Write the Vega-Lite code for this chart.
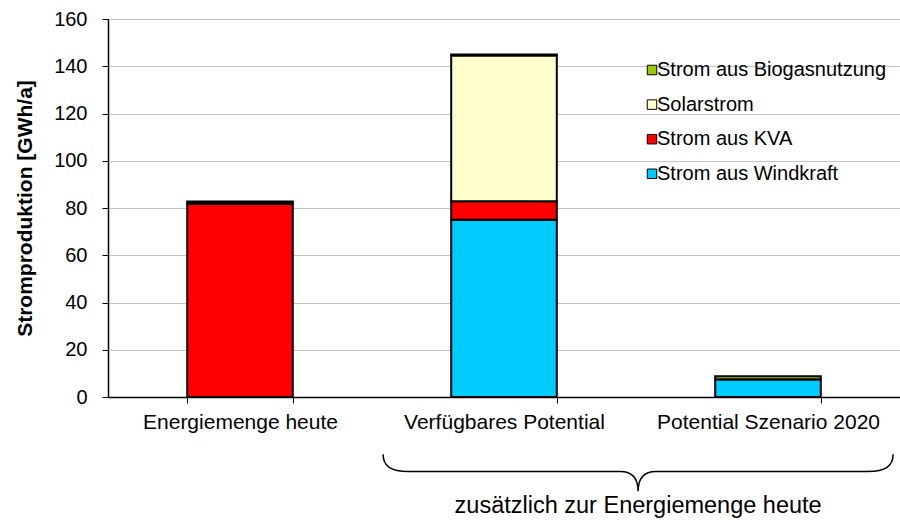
{
  "$schema": "https://vega.github.io/schema/vega-lite/v6.json",
  "width": 792,
  "height": 378,
  "autosize": {"type": "none"},
  "padding": {"left": 108, "top": 19, "right": 0, "bottom": 123},
  "background": "white",
  "config": {
    "font": "Liberation Sans",
    "view": {"stroke": null}
  },
  "datasets": {
    "strom": [
      {"kategorie": "Energiemenge heute", "quelle": "Strom aus Windkraft", "wert": 0},
      {"kategorie": "Energiemenge heute", "quelle": "Strom aus KVA", "wert": 81.9},
      {"kategorie": "Energiemenge heute", "quelle": "Solarstrom", "wert": 0},
      {"kategorie": "Energiemenge heute", "quelle": "Strom aus Biogasnutzung", "wert": 0.9},
      {"kategorie": "Verfügbares Potential", "quelle": "Strom aus Windkraft", "wert": 75},
      {"kategorie": "Verfügbares Potential", "quelle": "Strom aus KVA", "wert": 7.9},
      {"kategorie": "Verfügbares Potential", "quelle": "Solarstrom", "wert": 61.6},
      {"kategorie": "Verfügbares Potential", "quelle": "Strom aus Biogasnutzung", "wert": 0.5},
      {"kategorie": "Potential Szenario 2020", "quelle": "Strom aus Windkraft", "wert": 7.5},
      {"kategorie": "Potential Szenario 2020", "quelle": "Strom aus KVA", "wert": 0},
      {"kategorie": "Potential Szenario 2020", "quelle": "Solarstrom", "wert": 0},
      {"kategorie": "Potential Szenario 2020", "quelle": "Strom aus Biogasnutzung", "wert": 1.3}
    ],
    "klammer": [
      {"kategorie": "Potential Szenario 2020", "y": -31.5, "ytext": -46.3, "text": "zusätzlich zur Energiemenge heute"}
    ]
  },
  "layer": [
    {
      "data": {"name": "strom"},
      "mark": {"type": "bar", "stroke": "black", "strokeWidth": 2},
      "encoding": {
        "x": {
          "field": "kategorie",
          "type": "nominal",
          "sort": ["Energiemenge heute", "Verfügbares Potential", "Potential Szenario 2020"],
          "scale": {"domain": ["Energiemenge heute", "Verfügbares Potential", "Potential Szenario 2020"], "paddingInner": 0.6, "paddingOuter": 0.3},
          "axis": {
            "title": null,
            "labelAngle": 0,
            "labelFontSize": 21,
            "labelColor": "black",
            "labelPadding": 8,
            "labelLimit": 0,
            "domainColor": "black",
            "domainWidth": 1.5,
            "tickColor": "black",
            "tickSize": 6,
            "tickBand": "extent",
            "grid": false
          }
        },
        "y": {
          "field": "wert",
          "type": "quantitative",
          "stack": "zero",
          "scale": {"domain": [0, 160], "nice": false},
          "axis": {
            "title": "Stromproduktion [GWh/a]",
            "titleFontSize": 21,
            "titleFontWeight": "bold",
            "titleColor": "black",
            "titlePadding": 18,
            "values": [0, 20, 40, 60, 80, 100, 120, 140, 160],
            "labelFontSize": 20,
            "labelColor": "black",
            "labelPadding": 15,
            "domainColor": "black",
            "domainWidth": 1.5,
            "tickColor": "black",
            "tickSize": 6,
            "grid": true,
            "gridColor": "#c4c4c4",
            "gridWidth": 1
          }
        },
        "order": {"field": "kategorie"},
        "color": {
          "field": "quelle",
          "type": "nominal",
          "sort": ["Strom aus Biogasnutzung", "Solarstrom", "Strom aus KVA", "Strom aus Windkraft"],
          "scale": {
            "domain": ["Strom aus Biogasnutzung", "Solarstrom", "Strom aus KVA", "Strom aus Windkraft"],
            "range": ["#99CC00", "#FFFFCC", "#FF0000", "#00CCFF"]
          },
          "legend": {
            "title": null,
            "orient": "none",
            "legendX": 534,
            "legendY": 41,
            "padding": 0,
            "symbolType": "square",
            "symbolSize": 90,
            "symbolStrokeColor": "black",
            "symbolStrokeWidth": 1,
            "symbolOpacity": 1,
            "labelFontSize": 20,
            "labelColor": "black",
            "labelOffset": -5,
            "labelLimit": 0,
            "rowPadding": 14.6
          }
        }
      }
    },
    {
      "data": {"name": "klammer"},
      "mark": {
        "type": "point",
        "filled": false,
        "stroke": "black",
        "strokeWidth": 1.5,
        "opacity": 1,
        "size": 260100,
        "shape": "M -1 -0.067 C -1 -0.02 -0.97 0 -0.9 0 L -0.07 0 C -0.02 0 0 0.03 0 0.078 C 0 0.03 0.02 0 0.07 0 L 0.9 0 C 0.97 0 1 -0.02 1 -0.067"
      },
      "encoding": {
        "x": {"field": "kategorie", "type": "nominal", "bandPosition": -0.73, "sort": ["Energiemenge heute", "Verfügbares Potential", "Potential Szenario 2020"]},
        "y": {"field": "y", "type": "quantitative"}
      }
    },
    {
      "data": {"name": "klammer"},
      "mark": {"type": "text", "fontSize": 23.5, "color": "black", "baseline": "middle", "align": "center"},
      "encoding": {
        "x": {"field": "kategorie", "type": "nominal", "bandPosition": -0.73, "sort": ["Energiemenge heute", "Verfügbares Potential", "Potential Szenario 2020"]},
        "y": {"field": "ytext", "type": "quantitative"},
        "text": {"field": "text"}
      }
    }
  ]
}
